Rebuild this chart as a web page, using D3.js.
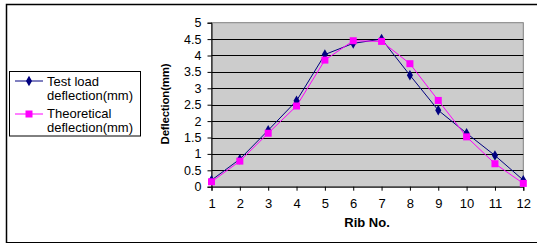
<!DOCTYPE html>
<html><head><meta charset="utf-8">
<script src="https://cdn.jsdelivr.net/npm/d3@7/dist/d3.min.js"></script>
<style>body{margin:0;background:#fff;}svg{display:block;font-family:"Liberation Sans",Arial,sans-serif;}</style>
</head><body>
<svg id="c" width="537" height="245"></svg>
<script>
const ribs = [1,2,3,4,5,6,7,8,9,10,11,12];
const testLoad = [0.2,0.84,1.72,2.62,4.03,4.37,4.5,3.4,2.33,1.63,0.95,0.2];
const theoretical = [0.15,0.78,1.63,2.46,3.86,4.45,4.43,3.75,2.63,1.52,0.7,0.1];
const yTicks = [0,0.5,1,1.5,2,2.5,3,3.5,4,4.5,5];
const seriesNames = ["Test load deflection(mm)","Theoretical deflection(mm)"];

const svg = d3.select("#c");
const L = 211.5, R = 523.3, T = 22.7, B = 186.7;
const x = d3.scalePoint().domain(ribs).range([L, R]);
const y = d3.scaleLinear().domain([0,5]).range([B, T]);

// outer frame
svg.append("path").attr("d","M6.5,243 V4.5 H537").attr("fill","none").attr("stroke","#000").attr("stroke-width",1.5);
svg.append("line").attr("x1",6).attr("x2",537).attr("y1",242.5).attr("y2",242.5).attr("stroke","#000").attr("stroke-width",1.2);

// plot area
svg.append("rect").attr("x",L).attr("y",T).attr("width",R-L).attr("height",B-T).attr("fill","#cccccc").attr("stroke","#808080").attr("stroke-width",1);

// gridlines
svg.append("g").selectAll("line").data(yTicks.filter(d=>d>0 && d<5)).join("line")
  .attr("x1",L).attr("x2",R).attr("y1",d=>Math.round(y(d))+0.5).attr("y2",d=>Math.round(y(d))+0.5)
  .attr("stroke","#000").attr("stroke-width",1);

// y axis
const ya = svg.append("g").attr("transform",`translate(${L},0)`)
  .call(d3.axisLeft(y).tickValues(yTicks).tickFormat(d=>d).tickSize(4).tickPadding(6));
ya.select(".domain").attr("stroke","#000");
ya.selectAll("text").attr("font-size",12.5).attr("fill","#000").attr("font-family","Liberation Sans, Arial, sans-serif");

// x axis
const xa = svg.append("g").attr("transform",`translate(0,${B})`)
  .call(d3.axisBottom(x).tickSize(4).tickPadding(8));
xa.select(".domain").attr("stroke","#000");
xa.selectAll("text").attr("font-size",13).attr("fill","#000").attr("font-family","Liberation Sans, Arial, sans-serif");

// titles
svg.append("text").attr("x",367).attr("y",227).attr("text-anchor","middle")
  .attr("font-weight","bold").attr("font-size",13).text("Rib No.");
svg.append("text").attr("transform","translate(169,104) rotate(-90)").attr("text-anchor","middle")
  .attr("font-weight","bold").attr("font-size",11.5).attr("letter-spacing",-0.2).text("Deflection(mm)");

// lines
const line = d3.line().x((d,i)=>x(ribs[i])).y(d=>y(d));
svg.append("path").datum(testLoad).attr("d",line).attr("fill","none").attr("stroke","#000080").attr("stroke-width",1);
svg.append("path").datum(theoretical).attr("d",line).attr("fill","none").attr("stroke","#ff00ff").attr("stroke-width",1);

const diamond = d3.symbol().type(d3.symbolDiamond).size(32);
svg.append("g").selectAll("path").data(testLoad).join("path")
  .attr("transform",(d,i)=>`translate(${x(ribs[i])},${y(d)})`).attr("d",diamond).attr("fill","#000080");
svg.append("g").selectAll("rect").data(theoretical).join("rect")
  .attr("x",(d,i)=>x(ribs[i])-3.5).attr("y",d=>y(d)-3.5).attr("width",7).attr("height",7).attr("fill","#ff00ff");

// legend
const lg = svg.append("g");
lg.append("rect").attr("x",9.5).attr("y",71.5).attr("width",131).attr("height",64.5).attr("fill","#fff").attr("stroke","#000");
const items = [
  {c:"#000080", ly:81, lines:["Test load","deflection(mm)"], ty:85.5, m:"d"},
  {c:"#ff00ff", ly:114, lines:["Theoretical","deflection(mm)"], ty:118, m:"s"}
];
items.forEach(it=>{
  lg.append("line").attr("x1",15).attr("x2",43).attr("y1",it.ly).attr("y2",it.ly).attr("stroke",it.c);
  if(it.m==="d") lg.append("path").attr("transform",`translate(29,${it.ly})`).attr("d",diamond).attr("fill",it.c);
  else lg.append("rect").attr("x",25.5).attr("y",it.ly-3.5).attr("width",7).attr("height",7).attr("fill",it.c);
  it.lines.forEach((t,k)=>lg.append("text").attr("x",47).attr("y",it.ty+k*14).attr("font-size",13).attr("fill","#000").text(t));
});
</script>
</body></html>
